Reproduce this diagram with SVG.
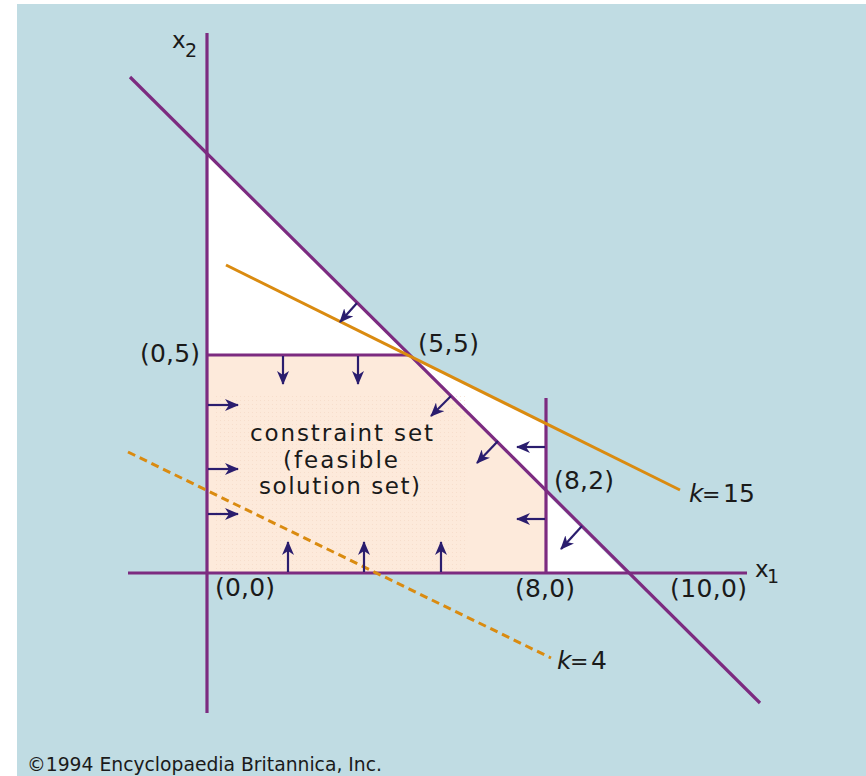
<svg xmlns="http://www.w3.org/2000/svg" width="866" height="776" viewBox="0 0 866 776">
  <defs>
    <style>
      .ax { stroke: #7c2b80; stroke-width: 3.2; fill: none; stroke-linecap: butt; }
      .or { stroke: #da8b10; stroke-width: 3; fill: none; }
      .ar { stroke: #2a1d6e; stroke-width: 2.2; fill: none; marker-end: url(#head); }
      .lb { font-family: "DejaVu Sans", "Liberation Sans", sans-serif; font-size: 25px; fill: #1a1a1a; }
      .it { font-style: italic; }
    </style>
    <marker id="head" viewBox="0 0 14 12" refX="13" refY="6" markerWidth="14" markerHeight="12" markerUnits="userSpaceOnUse" orient="auto">
      <path d="M0,0 L14,6 L0,12 L4,6 Z" fill="#2a1d6e"/>
    </marker>
    <pattern id="dots" width="4" height="4" patternUnits="userSpaceOnUse">
      <rect x="0" y="0" width="1" height="1" fill="#f3d6c2"/>
    </pattern>
  </defs>

  <rect x="17" y="4" width="849" height="772" fill="#c0dce3"/>

  <g id="regions">
    <polygon points="207,153 408,355 207,355" fill="#ffffff"/>
    <polygon points="408,355 546,423 546,493" fill="#ffffff"/>
    <polygon points="546,493 626,573 546,573" fill="#ffffff"/>
    <polygon id="feasible" points="207,355 408,355 546,493 546,573 207,573" fill="#fdeadb"/>
    <rect x="215" y="395" width="250" height="175" fill="url(#dots)" opacity="0.6"/>
  </g>

  <g id="lines">
    <line class="ax" x1="207" y1="33" x2="207" y2="713"/>
    <line class="ax" x1="128" y1="573" x2="747" y2="573"/>
    <line class="ax" x1="130" y1="77" x2="760" y2="703"/>
    <line class="ax" x1="207" y1="355" x2="408" y2="355"/>
    <line class="ax" x1="546" y1="398" x2="546" y2="573"/>
    <line class="or" x1="226" y1="265" x2="680" y2="490"/>
    <line class="or" x1="128" y1="452" x2="551" y2="658" stroke-dasharray="8 5"/>
  </g>

  <g id="arrows">
    <line class="ar" x1="357" y1="303" x2="340" y2="322"/>
    <line class="ar" x1="283" y1="356" x2="283" y2="384"/>
    <line class="ar" x1="358" y1="356" x2="358" y2="384"/>
    <line class="ar" x1="208" y1="405" x2="238" y2="405"/>
    <line class="ar" x1="208" y1="469" x2="238" y2="469"/>
    <line class="ar" x1="208" y1="514" x2="238" y2="514"/>
    <line class="ar" x1="288" y1="572" x2="288" y2="542"/>
    <line class="ar" x1="364" y1="572" x2="364" y2="542"/>
    <line class="ar" x1="441" y1="572" x2="441" y2="542"/>
    <line class="ar" x1="545" y1="447" x2="517" y2="447"/>
    <line class="ar" x1="545" y1="519" x2="517" y2="519"/>
    <line class="ar" x1="451" y1="396" x2="431" y2="416"/>
    <line class="ar" x1="498" y1="441" x2="477" y2="463"/>
    <line class="ar" x1="582" y1="526" x2="561" y2="549"/>
  </g>

  <g id="labels" class="lb">
    <text x="172" y="48" font-size="23">x</text>
    <text x="185" y="57" font-size="19">2</text>
    <text x="755" y="577" font-size="23">x</text>
    <text x="767" y="583" font-size="19">1</text>
    <text x="140" y="362" textLength="60" lengthAdjust="spacing">(0,5)</text>
    <text x="418" y="352" textLength="61" lengthAdjust="spacing">(5,5)</text>
    <text x="554" y="489" textLength="60" lengthAdjust="spacing">(8,2)</text>
    <text x="215" y="596" textLength="60" lengthAdjust="spacing">(0,0)</text>
    <text x="515" y="597" textLength="60" lengthAdjust="spacing">(8,0)</text>
    <text x="670" y="597" textLength="77" lengthAdjust="spacing">(10,0)</text>
    <text x="250" y="441" font-size="23" textLength="183" lengthAdjust="spacing">constraint set</text>
    <text x="283" y="468" font-size="23" textLength="115" lengthAdjust="spacing">(feasible</text>
    <text x="259" y="494" font-size="23" textLength="161" lengthAdjust="spacing">solution set)</text>
    <text x="689" y="502"><tspan class="it">k</tspan><tspan x="702" font-size="22">=</tspan><tspan x="723">15</tspan></text>
    <text x="557" y="669"><tspan class="it">k</tspan><tspan x="570" font-size="22">=</tspan><tspan x="591">4</tspan></text>
    <text x="27" y="771" font-size="20" textLength="355" lengthAdjust="spacingAndGlyphs">©1994 Encyclopaedia Britannica, Inc.</text>
  </g>
</svg>
